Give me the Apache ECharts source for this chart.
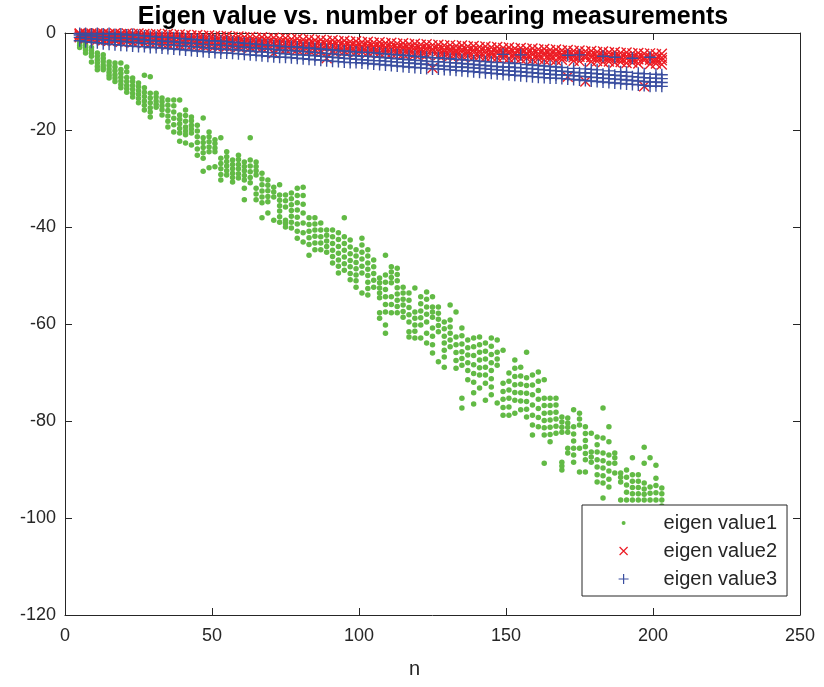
<!DOCTYPE html>
<html><head><meta charset="utf-8">
<script src="https://cdn.jsdelivr.net/npm/echarts@6/dist/echarts.min.js"></script>
<style>html,body{margin:0;padding:0;background:#fff}#c{width:824px;height:687px}</style>
</head><body><div id="c"></div>
<script>
const titleText = 'Eigen value vs. number of bearing measurements';
const xName = 'n';
const seriesNames = ['eigen value1', 'eigen value2', 'eigen value3'];
const xTicks = [0, 50, 100, 150, 200, 250];
const yTicks = [-120, -100, -80, -60, -40, -20, 0];

const nCols = [5,7,9,11,13,15,17,19,21,23,25,27,29,31,33,35,37,39,41,43,45,47,49,51,53,55,57,59,61,63,65,67,69,71,73,75,77,79,81,83,85,87,89,91,93,95,97,99,101,103,105,107,109,111,113,115,117,119,121,123,125,127,129,131,133,135,137,139,141,143,145,147,149,151,153,155,157,159,161,163,165,167,169,171,173,175,177,179,181,183,185,187,189,191,193,195,197,199,201,203];

const eig1 = [
[-0.8,-1.5,-2.0,-2.5,-3.0],
[-1.9,-2.5,-3.0,-3.5,-4.1],
[-3.0,-3.6,-4.2,-4.8,-6.0],
[-4.1,-4.8,-5.5,-6.2,-6.9,-7.6],
[-4.5,-5.2,-5.9,-6.6,-7.1,-7.6],
[-6.0,-6.7,-7.4,-8.1,-8.7,-9.3],
[-6.2,-7.0,-7.8,-8.6,-9.3,-10.0],
[-6.2,-7.5,-8.3,-9.1,-9.9,-10.6,-11.3],
[-7.0,-8.0,-9.2,-10.0,-10.8,-11.5,-12.2],
[-9.3,-10.0,-10.8,-11.6,-12.4,-13.2],
[-10.3,-11.1,-11.9,-12.7,-13.5,-14.4],
[-8.7,-11.3,-12.2,-13.1,-14.0,-14.9,-15.9],
[-9.0,-12.4,-13.4,-14.4,-15.4,-16.3,-17.3],
[-12.4,-13.2,-14.0,-14.7,-15.3],
[-13.4,-14.2,-15.0,-15.8,-16.9],
[-13.8,-14.9,-16.0,-17.1,-18.2,-19.4],
[-13.8,-15.0,-16.3,-17.6,-18.9,-20.4],
[-13.8,-16.9,-17.8,-18.7,-19.7,-20.6,-22.3],
[-15.9,-17.0,-18.2,-19.4,-20.2,-21.0,-22.7],
[-17.3,-18.1,-19.0,-19.8,-20.6,-23.1],
[-19.0,-20.2,-21.4,-22.6,-23.9,-25.2],
[-17.5,-21.6,-22.6,-23.6,-24.7,-25.8,-28.5],
[-20.4,-21.4,-22.4,-23.5,-24.5,-27.8],
[-22.0,-22.8,-23.7,-24.5,-27.6],
[-21.6,-25.8,-26.9,-28.0,-29.2,-30.3],
[-24.5,-25.5,-26.5,-27.4,-28.4,-29.3],
[-26.2,-27.1,-28.0,-28.9,-29.8,-30.7],
[-25.2,-26.1,-27.1,-28.0,-29.0,-29.9],
[-26.6,-27.5,-28.4,-29.4,-30.3,-32.0,-34.4],
[-21.6,-26.2,-27.4,-28.6,-29.8,-30.9],
[-26.6,-27.5,-28.4,-29.3,-32.0,-33.2,-34.4],
[-28.9,-30.1,-31.3,-32.6,-33.8,-35.0,-38.1],
[-30.3,-31.4,-32.5,-33.7,-34.8,-37.1],
[-31.8,-32.8,-33.8,-38.6],
[-31.3,-33.4,-34.5,-35.6,-36.7,-37.9,-39.0],
[-33.4,-34.6,-35.9,-38.6,-39.3,-40.0],
[-33.0,-34.2,-35.4,-36.6,-37.8,-39.0,-40.2],
[-32.0,-33.5,-35.0,-36.5,-38.0,-39.4,-40.9,-42.3],
[-31.8,-33.5,-35.3,-37.1,-39.2,-41.2,-43.1],
[-38.1,-39.5,-40.9,-42.2,-43.6,-45.8],
[-38.1,-39.4,-40.6,-41.9,-43.3,-44.7],
[-39.2,-40.6,-42.0,-43.3,-44.7],
[-40.6,-41.7,-42.9,-44.0,-45.2],
[-40.6,-42.0,-43.4,-44.8,-46.1,-47.4],
[-41.2,-42.6,-44.0,-45.4,-46.8,-48.1,-49.5],
[-38.1,-42.0,-43.4,-44.8,-46.2,-47.6,-48.9],
[-42.7,-44.1,-45.5,-46.9,-48.2,-49.6,-50.9],
[-44.7,-46.0,-47.3,-48.6,-49.9,-51.1,-52.4],
[-42.3,-43.7,-45.2,-46.6,-48.1,-49.5,-53.6],
[-44.7,-46.0,-47.4,-48.7,-50.0,-51.4,-52.7,-54.0],
[-46.8,-48.2,-49.6,-51.0,-52.4],
[-50.5,-51.5,-52.6,-53.6,-54.6,-57.7,-58.8],
[-45.8,-49.9,-51.4,-52.9,-54.4,-56.0,-57.5,-60.2,-61.9],
[-48.2,-49.3,-50.4,-51.5,-54.4,-56.0,-57.7],
[-48.5,-49.8,-51.1,-52.5,-53.8,-55.1,-56.4,-57.7],
[-52.4,-53.6,-54.9,-56.1,-57.4,-58.6],
[-53.6,-55.1,-56.6,-58.1,-59.6,-61.6,-62.7],
[-52.6,-57.5,-58.8,-60.2,-61.5,-62.9],
[-54.4,-55.8,-57.3,-58.7,-60.2,-62.9],
[-53.4,-54.9,-56.5,-58.0,-59.6,-61.9,-63.9],
[-54.4,-56.5,-57.5,-58.6,-60.8,-62.5,-64.3,-66.0],
[-56.5,-57.8,-59.0,-60.3,-61.6,-67.8],
[-59.6,-61.0,-62.5,-63.9,-65.4,-66.8,-68.9],
[-56.1,-59.2,-60.6,-61.9,-63.3,-64.7],
[-57.5,-62.7,-64.3,-65.9,-67.5,-69.1],
[-60.8,-62.4,-64.1,-65.7,-67.1,-68.5,-75.3,-77.3],
[-63.3,-64.9,-66.4,-68.0,-69.6,-71.5],
[-62.9,-64.7,-66.5,-68.4,-70.2,-72.0,-74.2,-76.5],
[-62.7,-64.3,-65.8,-67.4,-69.0,-70.5,-73.2],
[-63.9,-65.6,-67.2,-68.9,-70.5,-72.2,-75.7],
[-62.9,-64.6,-66.3,-68.0,-69.6,-71.3,-73.0,-74.6],
[-63.3,-65.8,-67.2,-68.5,-76.3],
[-65.4,-72.2,-73.9,-75.5,-77.2,-78.8],
[-70.1,-71.8,-73.6,-75.3,-77.1,-78.8],
[-67.4,-69.1,-70.8,-72.5,-74.1,-75.7,-78.4],
[-68.9,-70.7,-72.4,-74.2,-75.9,-77.7],
[-65.8,-71.1,-72.7,-74.3,-76.0,-77.6,-79.2],
[-70.5,-72.6,-74.6,-76.7,-78.8,-80.8,-82.9],
[-69.9,-71.8,-73.7,-75.5,-77.4,-79.3,-81.2],
[-71.5,-75.3,-76.8,-78.4,-79.9,-81.4,-82.9,-88.7],
[-75.3,-76.8,-78.3,-79.8,-81.3,-82.8,-84.3],
[-75.3,-76.7,-78.2,-79.6,-81.1,-82.5],
[-79.2,-80.2,-81.3,-82.3,-88.5,-89.3,-90.1],
[-79.4,-80.4,-81.3,-82.3,-85.6,-86.6],
[-77.7,-81.2,-82.7,-84.1,-85.6,-87.0,-88.5],
[-78.4,-79.6,-80.8,-85.6,-90.5],
[-81.2,-82.6,-84.0,-85.3,-86.7,-88.0,-90.5],
[-82.5,-86.4,-87.4,-88.5],
[-83.3,-84.9,-86.4,-88.0,-89.5,-91.1,-92.6],
[-77.3,-83.5,-86.6,-88.2,-89.7,-91.3,-92.8,-95.9],
[-81.2,-84.3,-87.0,-88.7,-90.3,-92.0,-93.6],
[-86.6,-87.6,-88.7,-90.7,-98.5],
[-90.7,-91.6,-92.6,-96.3,-99.0],
[-90.1,-91.6,-93.2,-94.7,-96.3,-98.0],
[-87.6,-91.1,-92.4,-93.7,-95.0,-96.3],
[-91.1,-92.4,-93.7,-95.0,-96.3,-98.5],
[-85.4,-88.7,-92.8,-94.0,-95.1,-96.3,-99.2],
[-87.6,-93.6,-94.9,-96.3,-98.0,-100.5],
[-89.1,-91.8,-93.3,-94.8,-96.3,-98.8],
[-93.8,-95.0,-96.3,-97.5,-99.5]
];

const eig2 = [
[-0.1,-0.2,-0.5,-0.9],[-0.1,-0.3,-0.7,-1.1],[-0.1,-0.4,-0.8,-1.2],[-0.1,-0.3,-0.7,-1.4],
[-0.1,-0.5,-0.9,-1.5],[-0.2,-0.4,-1.0,-1.6],[-0.1,-0.6,-1.1,-1.5],[-0.2,-0.5,-1.0,-1.8],
[-0.1,-0.7,-1.2,-1.7],[-0.2,-0.6,-1.1,-1.9],[-0.1,-0.8,-1.3,-1.8],[-0.2,-0.7,-1.2,-2.0],
[-0.3,-0.9,-1.4,-2.1],[-0.2,-0.8,-1.3,-2.0],[-0.3,-1.0,-1.5,-2.2],[-0.2,-0.9,-1.4,-2.3],
[-0.4,-1.1,-1.6,-2.2],[-0.3,-1.0,-1.5,-2.4],[-0.4,-1.2,-1.7,-2.3],[-0.5,-1.1,-1.6,-2.5],
[-0.4,-1.3,-1.8,-2.4],[-0.6,-1.2,-1.7,-2.6],[-0.5,-1.4,-1.9,-2.5],[-0.6,-1.3,-1.8,-2.7],
[-0.7,-1.5,-2.0,-2.6],[-0.6,-1.4,-1.9,-2.8],[-0.8,-1.6,-2.1,-2.7],[-0.7,-1.5,-2.0,-2.9],
[-0.9,-1.7,-2.2,-2.8],[-0.8,-1.6,-2.1,-3.0],[-1.0,-1.8,-2.3,-2.9],[-0.9,-1.7,-2.2,-3.1],
[-1.1,-1.9,-2.4,-3.0],[-1.0,-1.8,-2.3,-4.1],[-1.2,-2.0,-2.5,-3.2],[-1.1,-1.9,-2.4,-3.3],
[-1.3,-2.1,-2.6,-3.2],[-1.2,-2.0,-2.5,-3.4],[-1.4,-2.2,-2.7,-3.3],[-1.3,-2.1,-2.6,-3.5],
[-1.5,-2.3,-2.8,-3.4],[-1.4,-2.2,-2.7,-3.6],[-1.6,-2.4,-2.9,-5.2],[-1.5,-2.3,-2.8,-3.7],
[-1.7,-2.5,-3.0,-3.6],[-1.6,-2.4,-2.9,-3.8],[-1.8,-2.6,-3.1,-3.7],[-1.7,-2.5,-3.0,-3.9],
[-1.9,-2.7,-3.2,-3.8],[-1.8,-2.6,-3.1,-4.0],[-2.0,-2.8,-3.3,-3.9],[-1.9,-2.7,-3.2,-4.1],
[-2.1,-2.9,-3.4,-4.0],[-2.0,-2.8,-3.3,-4.2],[-2.2,-3.0,-3.5,-4.1],[-2.1,-2.9,-3.4,-4.3],
[-2.3,-3.1,-3.6,-4.2],[-2.2,-3.0,-3.5,-4.4],[-2.4,-3.2,-3.7,-4.3],[-2.3,-3.1,-3.6,-4.5],
[-2.5,-3.3,-3.8,-7.2],[-2.4,-3.2,-3.7,-4.6],[-2.6,-3.4,-3.9,-4.5],[-2.5,-3.3,-3.8,-4.7],
[-2.7,-3.5,-4.0,-4.6],[-2.6,-3.4,-3.9,-4.8],[-2.8,-3.6,-4.1,-4.7],[-2.7,-3.5,-4.0,-4.9],
[-2.9,-3.7,-4.2,-4.8],[-2.8,-3.6,-4.1,-5.0],[-3.0,-3.8,-4.3,-4.9],[-2.9,-3.7,-4.2,-5.1],
[-3.1,-3.9,-4.4,-5.0],[-3.0,-3.8,-4.3,-5.2],[-3.2,-4.0,-4.5,-5.1],[-3.1,-3.9,-4.4,-5.3],
[-3.3,-4.1,-4.6,-5.2],[-3.2,-4.0,-4.5,-5.4],[-3.4,-4.2,-4.7,-5.3],[-3.3,-4.1,-4.6,-5.5],
[-3.5,-4.3,-4.8,-5.4],[-3.4,-4.2,-4.7,-5.6],[-3.6,-4.4,-4.9,-5.5],[-3.5,-4.3,-4.8,-9.0],
[-3.7,-4.5,-5.0,-5.7],[-3.6,-4.4,-4.9,-5.8],[-3.8,-4.6,-5.1,-10.0],[-3.7,-4.5,-5.0,-5.9],
[-3.9,-4.7,-5.2,-5.8],[-3.8,-4.6,-5.1,-6.0],[-4.0,-4.8,-5.3,-5.9],[-3.9,-4.7,-5.2,-6.1],
[-4.1,-4.9,-5.4,-6.0],[-4.0,-4.8,-5.3,-6.2],[-4.2,-5.0,-5.5,-6.1],[-4.1,-4.9,-5.4,-6.3],
[-4.3,-5.1,-5.6,-11.0],[-4.2,-5.0,-5.5,-6.4],[-4.4,-5.2,-5.7,-6.3],[-4.3,-5.1,-5.6,-6.5]
];

const eig3 = [
[-0.1,-0.4,-0.9,-1.6],[-0.1,-0.5,-1.1,-1.8],[-0.2,-0.6,-1.2,-1.9],[-0.1,-0.7,-1.3,-2.0],
[-0.2,-0.8,-1.4,-2.2],[-0.1,-0.9,-1.5,-2.3],[-0.3,-1.0,-1.6,-2.4],[-0.2,-1.0,-1.7,-2.5],
[-0.4,-1.1,-1.8,-2.6],[-0.3,-1.2,-1.9,-2.7],[-0.5,-1.3,-2.0,-2.8],[-0.6,-1.4,-2.1,-2.8],
[-0.7,-1.5,-2.2,-3.0],[-0.8,-1.6,-2.3,-3.0],[-0.9,-1.7,-2.4,-3.1],[-0.9,-1.7,-2.4,-3.2],
[-1.0,-1.8,-2.5,-3.3],[-1.1,-1.9,-2.6,-3.4],[-1.2,-2.0,-2.7,-3.5],[-1.3,-2.1,-2.8,-3.6],
[-1.4,-2.2,-2.9,-3.7],[-1.5,-2.3,-3.0,-3.8],[-1.6,-2.4,-3.1,-3.9],[-1.6,-2.4,-3.2,-4.0],
[-1.7,-2.5,-3.3,-4.1],[-1.8,-2.6,-3.4,-4.1],[-1.9,-2.7,-3.4,-4.2],[-2.0,-2.8,-3.5,-4.3],
[-2.1,-2.9,-3.6,-4.4],[-2.2,-3.0,-3.7,-4.5],[-2.3,-3.1,-3.8,-4.6],[-2.4,-3.2,-3.9,-4.7],
[-2.5,-3.3,-4.0,-4.8],[-2.6,-3.4,-4.1,-4.9],[-2.7,-3.5,-4.2,-5.0],[-2.8,-3.6,-4.3,-5.0],
[-2.8,-3.6,-4.4,-5.1],[-2.9,-3.7,-4.5,-5.2],[-3.0,-3.8,-4.5,-5.3],[-3.1,-3.9,-4.6,-5.4],
[-3.2,-4.0,-4.7,-5.5],[-3.3,-4.1,-4.8,-5.6],[-3.4,-4.2,-4.9,-5.7],[-3.5,-4.3,-5.0,-5.8],
[-3.6,-4.4,-5.1,-5.9],[-3.7,-4.5,-5.2,-6.0],[-3.8,-4.6,-5.3,-6.1],[-3.9,-4.7,-5.4,-6.1],
[-4.0,-4.8,-5.5,-6.2],[-4.0,-4.8,-5.6,-6.3],[-4.1,-4.9,-5.7,-6.4],[-4.2,-5.0,-5.7,-6.5],
[-4.3,-5.1,-5.8,-6.6],[-4.4,-5.2,-5.9,-6.7],[-4.5,-5.3,-6.0,-6.8],[-4.6,-5.4,-6.1,-6.9],
[-4.7,-5.5,-6.2,-7.0],[-4.8,-5.6,-6.3,-7.1],[-4.9,-5.7,-6.4,-7.2],[-5.0,-5.8,-6.5,-7.3],
[-5.1,-5.9,-6.6,-7.4],[-5.1,-5.9,-6.7,-7.4],[-5.2,-6.0,-6.8,-7.5],[-5.3,-6.1,-6.9,-7.6],
[-5.4,-6.2,-7.0,-7.7],[-5.5,-6.3,-7.0,-7.8],[-5.6,-6.4,-7.1,-7.9],[-5.7,-6.5,-7.2,-8.0],
[-5.8,-6.6,-7.3,-8.1],[-5.9,-6.7,-7.4,-8.2],[-6.0,-6.8,-7.5,-8.3],[-6.1,-6.9,-7.6,-8.4],
[-4.4,-7.0,-7.7,-8.5],[-6.2,-7.0,-7.8,-8.6],[-6.3,-7.1,-7.9,-8.7],[-4.5,-7.2,-8.0,-8.8],
[-6.5,-7.3,-8.1,-8.9],[-6.6,-7.4,-8.2,-9.0],[-6.7,-7.5,-8.3,-9.1],[-6.8,-7.6,-8.4,-9.2],
[-6.9,-7.7,-8.5,-9.3],[-7.0,-7.8,-8.6,-9.3],[-7.1,-7.9,-8.6,-9.4],[-4.6,-8.0,-8.7,-9.5],
[-7.3,-8.1,-8.8,-9.6],[-4.5,-8.2,-8.9,-9.7],[-7.4,-8.2,-9.0,-9.8],[-7.5,-8.3,-9.1,-9.9],
[-7.6,-8.4,-9.2,-10.0],[-4.8,-8.5,-9.3,-10.1],[-7.8,-8.6,-9.4,-10.2],[-5.0,-8.7,-9.5,-10.3],
[-8.0,-8.8,-9.6,-10.4],[-8.1,-8.9,-9.7,-10.5],[-5.2,-9.0,-9.8,-10.6],[-8.3,-9.1,-9.9,-10.7],
[-8.4,-9.2,-10.0,-10.8],[-5.0,-9.3,-10.1,-11.0],[-8.5,-9.3,-10.1,-10.9],[-8.6,-9.4,-10.2,-11.0]
];

function toPoints(cols) {
  const out = [];
  cols.forEach((vals, i) => vals.forEach(v => out.push([nCols[i], v])));
  return out;
}

const GREEN = '#62ba45', RED = '#ec1c24', BLUE = '#3a4ea0', AX = '#262626';
const FONT = '"Liberation Sans", Arial, Helvetica, sans-serif';
const crossPath = 'path://M0,0L10,10M10,0L0,10';
const plusPath = 'path://M5,0L5,10M0,5L10,5';

const chart = echarts.init(document.getElementById('c'), null, {renderer: 'canvas'});
const axisCommon = {
  min: 0, max: 250, interval: 50,
  axisLine: {show: true, onZero: false, lineStyle: {color: AX, width: 1}},
  axisTick: {show: true, inside: true, length: 7, lineStyle: {color: AX}},
  splitLine: {show: false}
};
const yCommon = {
  min: -120, max: 0, interval: 20,
  axisLine: {show: true, onZero: false, lineStyle: {color: AX, width: 1}},
  axisTick: {show: true, inside: true, length: 7, lineStyle: {color: AX}},
  splitLine: {show: false}
};
chart.setOption({
  animation: false,
  backgroundColor: '#fff',
  textStyle: {fontFamily: FONT},
  title: {
    text: titleText, left: 428, top: 0, textAlign: 'center',
    textStyle: {fontFamily: FONT, fontSize: 25, fontWeight: 'bold', color: '#000'}
  },
  grid: {left: 65, right: 24, top: 33, bottom: 72},
  xAxis: [
    Object.assign({type: 'value', position: 'bottom', name: xName, nameLocation: 'middle', nameGap: 44,
      nameTextStyle: {fontFamily: FONT, fontSize: 20, color: AX, padding: [0, 36, 0, 0]},
      axisLabel: {show: true, fontFamily: FONT, fontSize: 18, color: AX, margin: 12,
        formatter: v => xTicks.includes(v) ? String(v) : ''}}, axisCommon),
    Object.assign({type: 'value', position: 'top', axisLabel: {show: false}}, axisCommon)
  ],
  yAxis: [
    Object.assign({type: 'value', position: 'left',
      axisLabel: {show: true, fontFamily: FONT, fontSize: 18, color: AX, margin: 9,
        formatter: v => yTicks.includes(v) ? String(v) : ''}}, yCommon),
    Object.assign({type: 'value', position: 'right', axisLabel: {show: false}}, yCommon)
  ],
  legend: {
    orient: 'vertical', left: 582, top: 505,
    backgroundColor: '#fff', borderColor: AX, borderWidth: 1, borderRadius: 0,
    padding: [8, 10, 7, 36], itemGap: 8, itemWidth: 70, itemHeight: 10,
    textStyle: {fontFamily: FONT, fontSize: 20, color: AX},
    data: [
      {name: seriesNames[0], icon: 'path://M0,0M10,10M3,5A2,2 0 1,0 7,5A2,2 0 1,0 3,5Z',
        itemStyle: {color: GREEN, borderWidth: 0}},
      {name: seriesNames[1], icon: 'path://M0,0M10,10M1,1L9,9M9,1L1,9',
        itemStyle: {color: 'rgba(0,0,0,0)', borderColor: RED, borderWidth: 1.2}},
      {name: seriesNames[2], icon: 'path://M0,0L0,0M5,0L5,10M0,5L10,5',
        itemStyle: {color: 'rgba(0,0,0,0)', borderColor: BLUE, borderWidth: 1.2}}
    ]
  },
  series: [
    {name: seriesNames[0], type: 'scatter', xAxisIndex: 0, yAxisIndex: 0, symbol: 'circle', symbolSize: 5.5,
      itemStyle: {color: GREEN, opacity: 1}, data: toPoints(eig1), z: 2},
    {name: seriesNames[1], type: 'scatter', xAxisIndex: 0, yAxisIndex: 0, symbol: crossPath, symbolSize: 10,
      itemStyle: {color: 'rgba(0,0,0,0)', borderColor: RED, borderWidth: 1.4, opacity: 1}, data: toPoints(eig2), z: 3},
    {name: seriesNames[2], type: 'scatter', xAxisIndex: 0, yAxisIndex: 0, symbol: plusPath, symbolSize: 12,
      itemStyle: {color: 'rgba(0,0,0,0)', borderColor: BLUE, borderWidth: 1.4, opacity: 1}, data: toPoints(eig3), z: 4}
  ]
});
</script></body></html>
